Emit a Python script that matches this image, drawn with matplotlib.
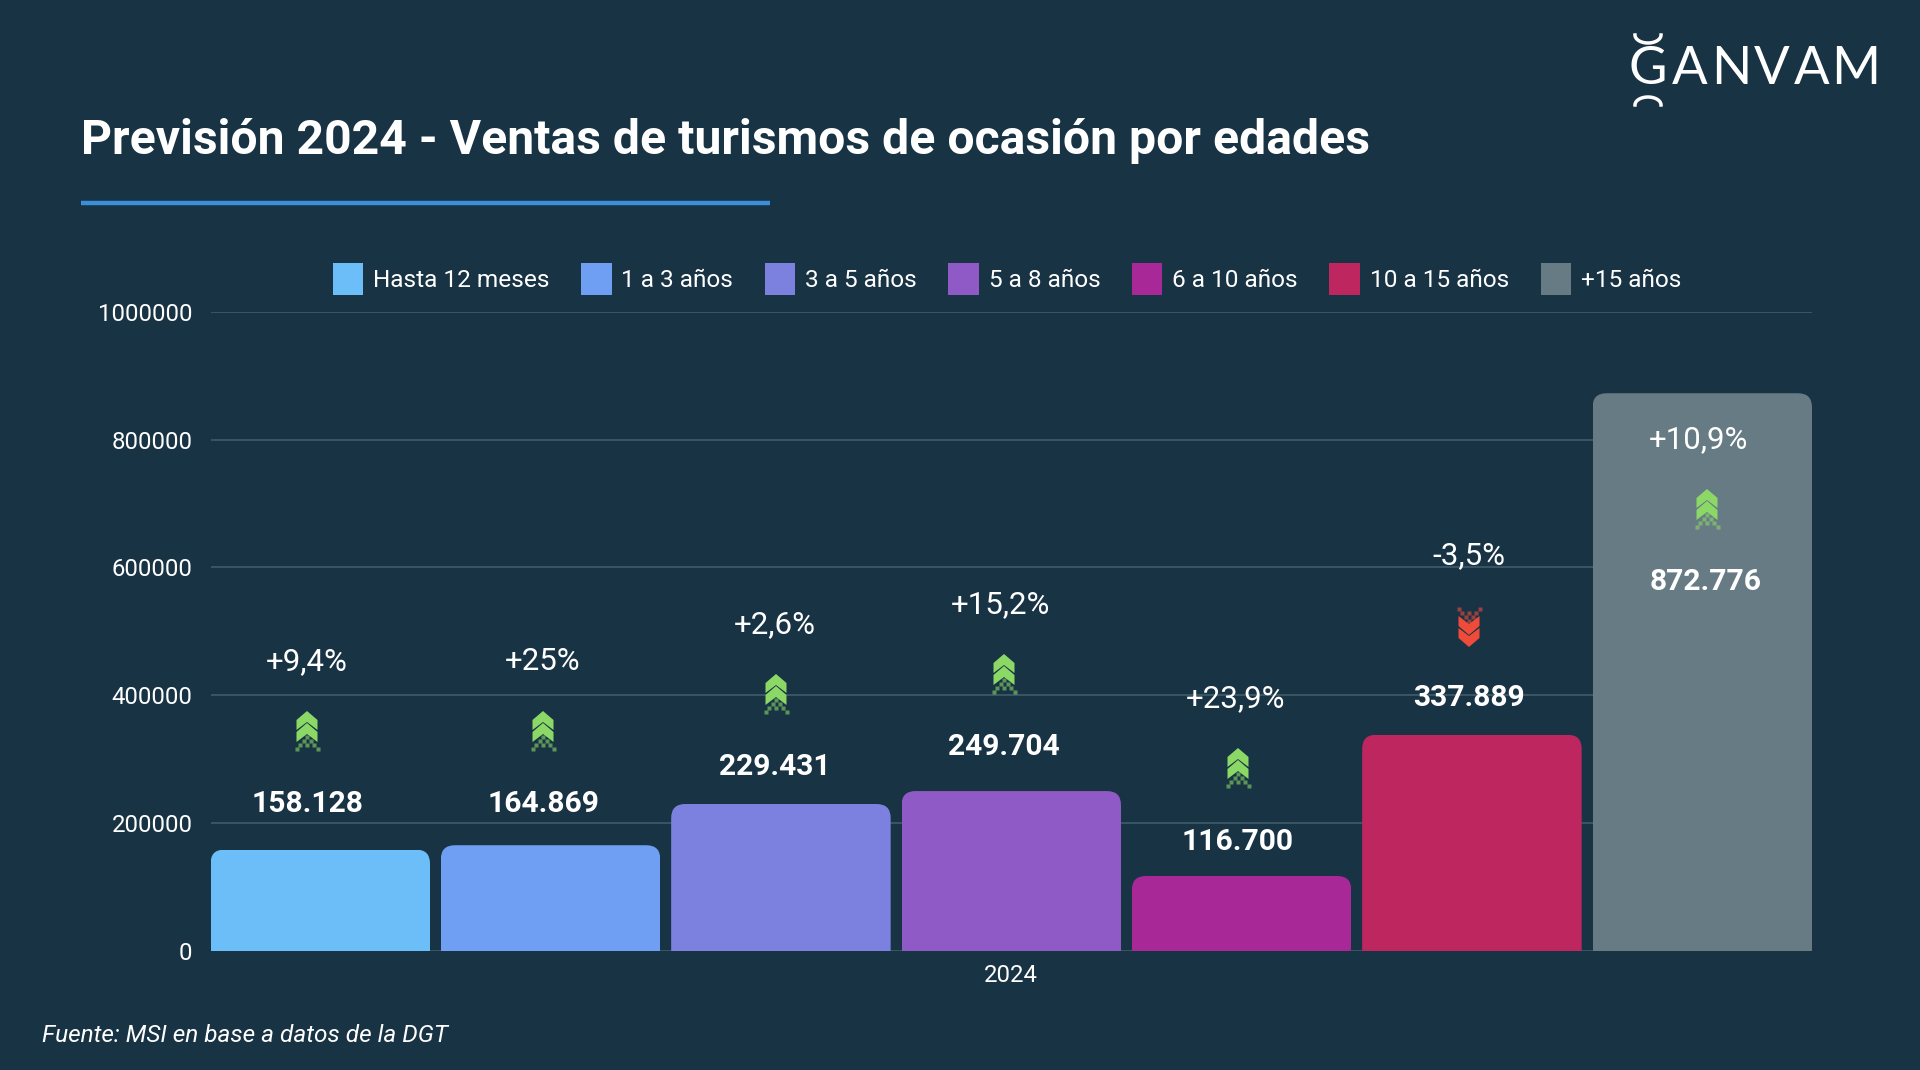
import matplotlib
matplotlib.use('Agg')
import matplotlib.pyplot as plt
import matplotlib.patches as mpatches
import numpy as np

# data
years = ['2024']
categories = ['Hasta 12 meses', '1 a 3 años', '3 a 5 años', '5 a 8 años', '6 a 10 años', '10 a 15 años', '+15 años']
ventas = [158128, 164869, 229431, 249704, 116700, 337889, 872776]
ventas_txt = ['158.128', '164.869', '229.431', '249.704', '116.700', '337.889', '872.776']
variacion = ['+9,4%', '+25%', '+2,6%', '+15,2%', '+23,9%', '-3,5%', '+10,9%']
yticks = [0, 200000, 400000, 600000, 800000, 1000000]

colores = ['#6BBEF7', '#6F9FF3', '#7C80DF', '#8F59C6', '#A72896', '#BE2660', '#677B84']
BG = '#183344'
GRID = '#3D5866'
VERDE = '#8CD867'
ROJO = '#EE4B3A'

# overlay layout, in pixels of the 1920x1070 picture (x center, y center)
pos_valor = [(307, 804), (543, 804), (775, 767), (1004, 747), (1238, 842), (1469, 698), (1706, 582)]
pos_pct = [(307, 662), (543, 662), (775, 625), (1000, 605), (1236, 699), (1469, 556), (1699, 440)]
pos_flecha = [(307, 731), (543, 731), (776, 694), (1004, 674), (1238, 768), (1469, 627), (1707, 509)]

plt.rcParams['font.family'] = ['Roboto', 'DejaVu Sans']

fig = plt.figure(figsize=(19.2, 10.7), dpi=100, facecolor=BG)
ax = fig.add_axes([210.5 / 1920, 1 - 950.5 / 1070, 1601.5 / 1920, 638.5 / 1070], facecolor=BG)

# grouped bars inside one category, like the original
n = len(ventas)
ancho = 219.5 / 1601.5
paso = (1 - ancho) / (n - 1)
barras = []
for i in range(n):
    x = -0.5 + ancho / 2 + paso * i
    b = ax.bar(x, ventas[i], ancho, color=colores[i], label=categories[i], zorder=3)
    barras.append(b)
ax.set_xlim(-0.5, 0.5)
ax.set_ylim(0, 1000000)

# rounded tops: clip each bar with a rounded box in data coordinates
asp = (1000000 / 638.5) / (1 / 1601.5)
for b in barras:
    r = b[0]
    clip = mpatches.FancyBboxPatch((r.get_x(), -100000), r.get_width(), r.get_height() + 100000,
                                   boxstyle=mpatches.BoxStyle('Round', pad=0, rounding_size=14 / 1601.5),
                                   mutation_aspect=asp, transform=ax.transData)
    r.set_clip_path(clip)

ax.set_yticks(yticks)
ax.set_yticklabels([str(v) for v in yticks])
ax.set_xticks([0])
ax.set_xticklabels(years)
ax.tick_params(axis='both', length=0, colors='white', labelsize=17.2, pad=13)
ax.tick_params(axis='x', pad=10)
ax.grid(True, axis='y', color=GRID, lw=1.3, zorder=0)
ax.set_axisbelow(True)
for s in ax.spines.values():
    s.set_visible(False)

leg = ax.legend(loc='center', bbox_to_anchor=(0.4973, 1.0515), ncol=n, frameon=False, fontsize=17.6,
                labelcolor='white', handlelength=1.25, handleheight=1.65, handletextpad=0.4,
                columnspacing=1.29, borderpad=0, borderaxespad=0)

# overlay in picture pixels
ov = fig.add_axes([0, 0, 1, 1], facecolor='none')
ov.set_xlim(0, 1920)
ov.set_ylim(1070, 0)
ov.axis('off')
ov.patch.set_visible(False)

ov.text(81, 141, 'Previsión 2024 - Ventas de turismos de ocasión por edades', color='white',
        fontsize=34.7, fontweight='bold', va='center', ha='left')
ov.plot([81, 770], [202.5, 202.5], color='#3A8FD8', lw=3.2, solid_capstyle='butt')
ov.text(42, 1036, 'Fuente: MSI en base a datos de la DGT', color='white', fontsize=17.55,
        style='italic', va='center', ha='left')


def flecha(cx, cy, color, arriba=True):
    # two solid chevrons and a dotted one under them
    s = -1 if arriba else 1
    for dy in (0, 12):
        xs = np.array([0, 10.5, 10.5, 0, -10.5, -10.5])
        ys = np.array([-20, -11, -1, -9, -1, -11]) + dy
        ov.add_patch(mpatches.Polygon(np.c_[cx + xs, cy - s * ys], closed=True, fc=color, ec='none'))
    for fila, k in enumerate([1, 2, 3, 4]):
        for j in range(k):
            if fila == 3 and j in (1, 2):
                continue
            px = cx + (j - (k - 1) / 2) * 7
            py = cy - s * (6 + fila * 4)
            ov.plot(px, py, 's', ms=2.2, color=color, mec='none', alpha=0.6)


for i in range(n):
    ov.text(*pos_valor[i], ventas_txt[i], color='white', fontsize=21.6, fontweight='bold', ha='center', va='center')
    ov.text(*pos_pct[i], variacion[i], color='white', fontsize=22.5, ha='center', va='center')
    sube = variacion[i].startswith('+')
    flecha(*pos_flecha[i], VERDE if sube else ROJO, sube)

# logo
letras = ['G', 'A', 'N', 'V', 'A', 'M']
letras_x = [1648, 1690, 1731, 1772, 1812, 1856]
for l, xl in zip(letras, letras_x):
    ov.text(xl, 70, l, color='white', fontsize=38, family='Lato', ha='center', va='center')
t = np.linspace(0, np.pi, 30)
ov.plot(1648 + 13 * np.cos(t), 35 + 8 * np.sin(t), color='white', lw=2.5)
ov.plot(1648 + 13 * np.cos(t), 105 - 8 * np.sin(t), color='white', lw=2.5)

fig.savefig('out.png', dpi=100, facecolor=BG)
